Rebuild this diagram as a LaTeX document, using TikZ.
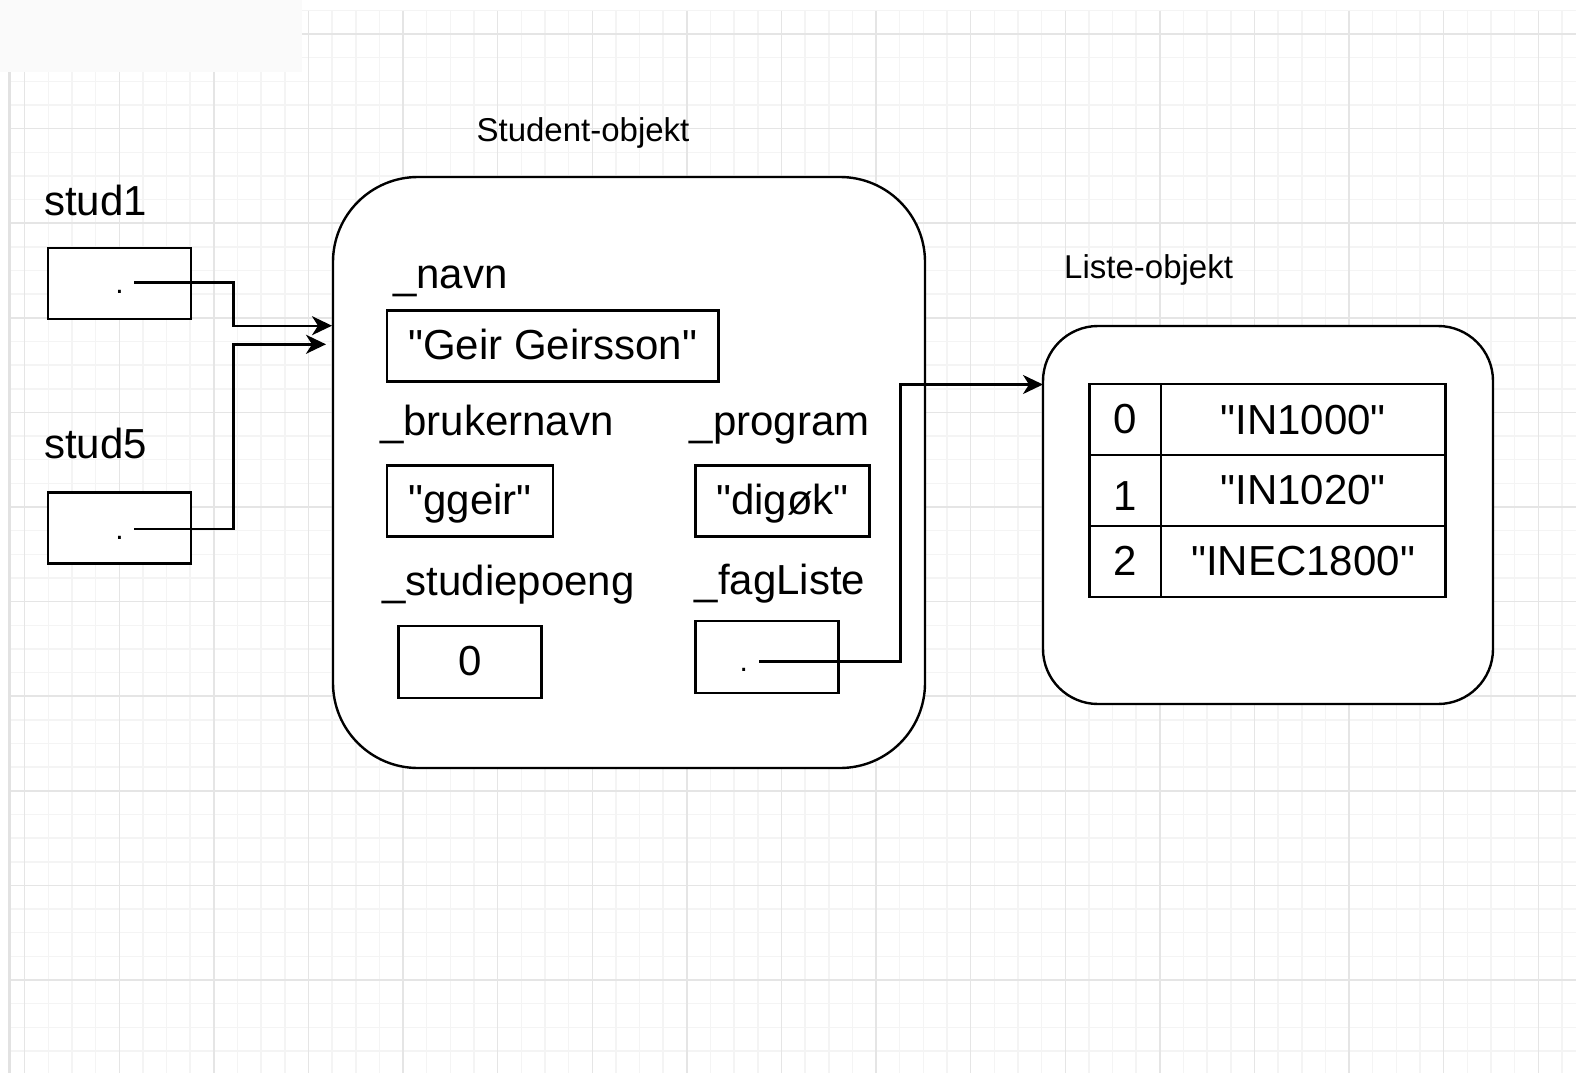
\documentclass[tikz,border=0pt]{standalone}
\usepackage{fontspec}
\setmainfont{Liberation Sans}[Ligatures=TeXOff]
\usetikzlibrary{arrows.meta}
\definecolor{gminor}{RGB}{244,244,244}
\definecolor{gmajor}{RGB}{229,229,229}
\definecolor{gedge}{RGB}{226,226,226}
\definecolor{gpanel}{RGB}{250,250,250}
\newcommand{\dq}{\char34\relax}
\tikzset{
  gridminor/.style={draw=gminor, line width=1.5pt},
  gridmajor/.style={draw=gmajor, line width=1.5pt},
  objbox/.style={draw, line width=2.4pt, inner sep=0pt, outer sep=0pt, anchor=north west},
  big/.style={font=\fontsize{42}{50}\selectfont, inner sep=0pt, outer sep=0pt},
  small/.style={font=\fontsize{33}{40}\selectfont, inner sep=0pt, outer sep=0pt},
  dotlbl/.style={font=\fontsize{30}{36}\selectfont, inner sep=0pt, outer sep=0pt, anchor=base},
  conn/.style={draw, line width=2.4pt, -{Stealth[length=20pt,width=19pt,inset=6pt]}},
}
\begin{document}
\begin{tikzpicture}[x=1pt,y=-1pt]
\useasboundingbox (0,0) rectangle (1576,1073);
\fill[white] (0,0) rectangle (1576,1073);
% grid
\begin{scope}
\clip (9,11) rectangle (1576,1073);
\foreach \i in {0,...,67}{\draw[gridminor] ({1+23.65*\i},11) -- ++(0,1062);}
\foreach \i in {0,...,45}{\draw[gridminor] (9,{10.35+23.65*\i}) -- ++(1567,0);}
\foreach \i in {0,...,16}{\draw[gridmajor] ({24.65+94.6*\i},11) -- ++(0,1062);}
\foreach \i in {0,...,11}{\draw[gridmajor] (9,{34+94.6*\i}) -- ++(1567,0);}
\end{scope}
\draw[draw=gedge, line width=3pt] (9.5,72) -- (9.5,1073);
\fill[gpanel] (0,0) rectangle (302,72);

% reference variables
\node[big, anchor=base west] (lstud1) at (44.2,215) {stud1};
\node[big, anchor=base west] (lstud5) at (44.2,458.3) {stud5};
\node[objbox, fill=white, minimum width=143pt, minimum height=71pt] (s1) at (48,248) {};
\node[objbox, fill=white, minimum width=143pt, minimum height=71pt] (s5) at (48,492.5) {};
\node[dotlbl] (d1) at (119.5,293.5) {.};
\node[dotlbl] (d5) at (119.5,539) {.};

% student object
\node[small, anchor=base] (tstud) at (583,141.7) {Student-objekt};
\node[objbox, fill=white, rounded corners=85pt, minimum width=592pt, minimum height=591pt] (stud) at (333,177) {};
\node[big, anchor=base west] (lnavn) at (393,288) {\_navn};
\node[objbox, minimum width=331.5pt, minimum height=71pt] (bnavn) at (387,310.5) {};
\node[big, anchor=base] (vnavn) at (bnavn.center |- 0,359) {\dq Geir Geirsson\dq};
\node[big, anchor=base west] (lbruker) at (380,435) {\_brukernavn};
\node[big, anchor=base west] (lprog) at (689.7,435) {\_program};
\node[objbox, minimum width=166pt, minimum height=71pt] (bbruker) at (387,465.5) {};
\node[big, anchor=base] (vbruker) at (bbruker.center |- 0,514) {\dq ggeir\dq};
\node[objbox, minimum width=174pt, minimum height=71pt] (bprog) at (695.6,465.5) {};
\node[big, anchor=base] (vprog) at (bprog.center |- 0,514.5) {\dq digøk\dq};
\node[big, anchor=base west] (lpoeng) at (382.5,595) {\_studiepoeng};
\node[big, anchor=base west] (lfag) at (694.8,594) {\_fagListe};
\node[objbox, minimum width=143pt, minimum height=72pt] (bpoeng) at (398.3,626) {};
\node[big, anchor=base] (vpoeng) at (bpoeng.center |- 0,675) {0};
\node[objbox, minimum width=143pt, minimum height=72pt] (bfag) at (695.6,621) {};
\node[dotlbl] (dfag) at (743.8,671.8) {.};

% list object
\node[small, anchor=base] (tliste) at (1148.6,278.5) {Liste-objekt};
\node[objbox, fill=white, rounded corners=55pt, minimum width=450pt, minimum height=378pt] (liste) at (1043,326) {};
\node[objbox, minimum width=71.7pt, minimum height=70.7pt] (i0) at (1089.3,384) {};
\node[objbox, minimum width=284.3pt, minimum height=70.7pt] (v0) at (1161,384) {};
\node[objbox, minimum width=71.7pt, minimum height=71.3pt] (i1) at (1089.3,454.7) {};
\node[objbox, minimum width=284.3pt, minimum height=71.3pt] (v1) at (1161,454.7) {};
\node[objbox, minimum width=71.7pt, minimum height=70.7pt] (i2) at (1089.3,526) {};
\node[objbox, minimum width=284.3pt, minimum height=70.7pt] (v2) at (1161,526) {};
\node[big, anchor=base] (ti0) at (i0.center |- 0,433.5) {0};
\node[big, anchor=base] (tv0) at (v0.center |- 0,434) {\dq IN1000\dq};
\node[big, anchor=base] (ti1) at (i1.center |- 0,510) {1};
\node[big, anchor=base] (tv1) at (v1.center |- 0,504.5) {\dq IN1020\dq};
\node[big, anchor=base] (ti2) at (i2.center |- 0,575.7) {2};
\node[big, anchor=base] (tv2) at (v2.center |- 0,575.7) {\dq INEC1800\dq};

% connectors
\coordinate (p1s) at (134.3,282.3);
\coordinate (p1e) at (332,325.7);
\coordinate (p5s) at (134.3,529);
\coordinate (p5e) at (326,344.3);
\coordinate (pfs) at (759,661.5);
\coordinate (pfe) at (1043,384.5);
\draw[conn] (p1s) -- (233.3,282.3) |- (p1e);
\draw[conn] (p5s) -- (233.3,529) |- (p5e);
\draw[conn] (pfs) -- (900.5,661.5) |- (pfe);
\end{tikzpicture}
\end{document}
